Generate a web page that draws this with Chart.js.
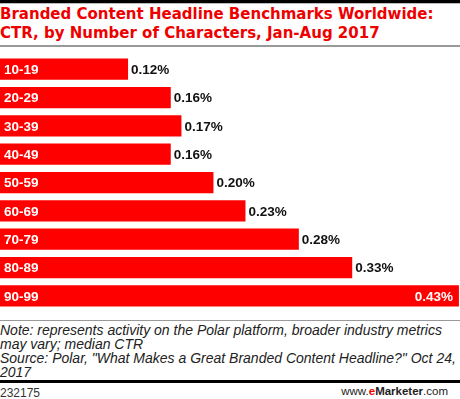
<!DOCTYPE html>
<html>
<head>
<meta charset="utf-8">
<script src="https://cdn.jsdelivr.net/npm/chart.js@4"></script>
<style>
  html,body{margin:0;padding:0;background:#fff;}
  body{width:460px;height:399px;position:relative;overflow:hidden;font-family:"Liberation Sans",Arial,sans-serif;}
  .topline{position:absolute;left:0;top:0;width:460px;height:3px;background:#000;border-bottom:1px solid #bbb;}
  .title{position:absolute;left:0;top:5px;width:460px;color:#ee0000;font-family:"DejaVu Sans",sans-serif;font-weight:bold;font-size:15px;line-height:19px;}
  .rule1{position:absolute;left:0;top:45px;width:460px;height:2px;background:#999;}
  #wrap{position:absolute;left:0;top:55px;width:460px;height:255px;}
  .rule2{position:absolute;left:0;top:320px;width:460px;height:1px;background:#999;}
  .note{position:absolute;left:0;top:323px;width:460px;font-style:italic;font-size:14px;line-height:14px;color:#222;}
  .rule3{position:absolute;left:0;top:380px;width:460px;height:3px;background:#000;}
  .id{position:absolute;left:0;top:386px;font-size:12px;color:#333;}
  .brand{position:absolute;right:12px;top:385px;font-size:11.5px;color:#222;}
  .brand b{font-weight:bold;}
  .brand .e{color:#e00;}
</style>
</head>
<body>
<div class="topline"></div>
<div class="title">Branded Content Headline Benchmarks Worldwide:<br>CTR, by Number of Characters, Jan-Aug 2017</div>
<div class="rule1"></div>
<div id="wrap"><canvas id="chart"></canvas></div>
<div class="rule2"></div>
<div class="note">Note: represents activity on the Polar platform, broader industry metrics<br>may vary; median CTR<br>Source: Polar, "What Makes a Great Branded Content Headline?" Oct 24,<br>2017</div>
<div class="rule3"></div>
<div class="id">232175</div>
<div class="brand">www.<b class="e">e</b><b>Marketer</b>.com</div>
<script>
const categories = ['10-19','20-29','30-39','40-49','50-59','60-69','70-79','80-89','90-99'];
const ctrValues = [0.12, 0.16, 0.17, 0.16, 0.20, 0.23, 0.28, 0.33, 0.43];
const valueLabels = ['0.12%','0.16%','0.17%','0.16%','0.20%','0.23%','0.28%','0.33%','0.43%'];

const barLabels = {
  id:'barLabels',
  afterDatasetsDraw(chart){
    const {ctx} = chart;
    const meta = chart.getDatasetMeta(0);
    const right = chart.chartArea.right;
    ctx.save();
    ctx.font = 'bold 13.5px "Liberation Sans", Arial, sans-serif';
    ctx.textBaseline = 'middle';
    meta.data.forEach((bar, i) => {
      const y = bar.y + 1;
      ctx.fillStyle = '#fff';
      ctx.textAlign = 'left';
      ctx.fillText(categories[i], 4, y);
      const w = ctx.measureText(valueLabels[i]).width;
      if (bar.x + 4 + w > right - 2) {
        ctx.textAlign = 'right';
        ctx.fillText(valueLabels[i], bar.x - 6, y);
      } else {
        ctx.fillStyle = '#111';
        ctx.textAlign = 'left';
        ctx.fillText(valueLabels[i], bar.x + 3, y);
      }
    });
    ctx.restore();
  }
};

new Chart(document.getElementById('chart'), {
  type:'bar',
  data:{
    labels:categories,
    datasets:[{
      data:ctrValues,
      backgroundColor:'#ff0000',
      borderWidth:0,
      barPercentage:0.75,
      categoryPercentage:1
    }]
  },
  options:{
    indexAxis:'y',
    responsive:true,
    maintainAspectRatio:false,
    animation:false,
    layout:{padding:0},
    plugins:{legend:{display:false},tooltip:{enabled:false}},
    scales:{
      x:{display:false,min:0,max:0.431},
      y:{display:false}
    }
  },
  plugins:[barLabels]
});
</script>
</body>
</html>
